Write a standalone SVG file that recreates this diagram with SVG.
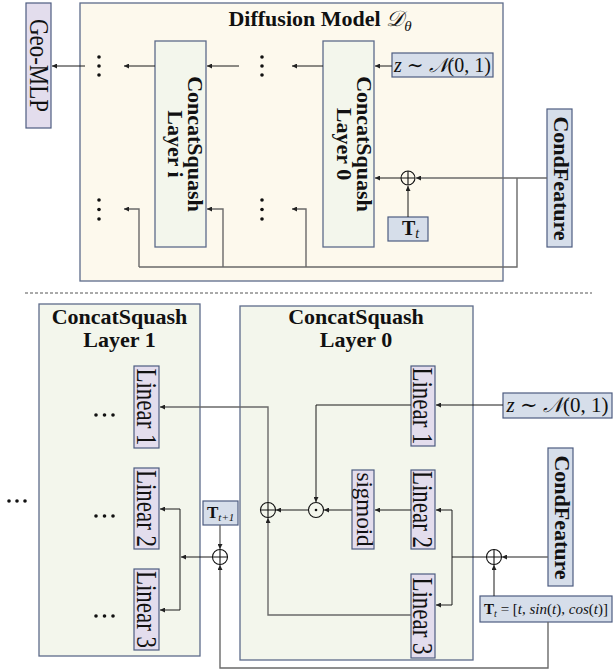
<svg xmlns="http://www.w3.org/2000/svg" width="613" height="671" viewBox="0 0 613 671">
<defs>
<marker id="ah" viewBox="0 0 6 6" refX="6" refY="3" markerWidth="5" markerHeight="5" markerUnits="userSpaceOnUse" orient="auto">
<path d="M0,0 L6,3 L0,6 z" fill="#222"/>
</marker>
<style>
.outer{fill:#fdf9ed;stroke:#5d6b8a;stroke-width:1.3}
.layer{fill:#f3f6ec;stroke:#5d6b8a;stroke-width:1.3}
.lav{fill:#e3dded;stroke:#4d5c80;stroke-width:1.2}
.blu{fill:#d6deea;stroke:#4d5c80;stroke-width:1.2}
.t{font-family:"Liberation Serif","DejaVu Serif",serif;fill:#111}
.b{font-weight:bold}
.ln{fill:none;stroke:#1a1a1a;stroke-width:1}
.lg{fill:none;stroke:#6a6a6a;stroke-width:1.4}
.a{marker-end:url(#ah)}
.op{fill:none;stroke:#111;stroke-width:1.1}
.dot{fill:#111}
</style>
</defs>

<g id="diffusion-model">
<rect class="outer" x="80" y="3" width="423" height="278"/>
<text class="t b" x="320" y="26" font-size="22" text-anchor="middle">Diffusion Model <tspan font-weight="normal" font-style="italic">𝒟</tspan><tspan font-weight="normal" font-style="italic" font-size="15" dy="5">θ</tspan></text>
</g>

<g id="geo-mlp">
<rect class="lav" x="26" y="3" width="25" height="125"/>
<text class="t" font-size="23" text-anchor="middle" transform="translate(30,65.5) rotate(90) scale(1,1.2)">Geo-MLP</text>
</g>

<g id="layer-i">
<rect class="layer" x="155" y="41" width="51" height="206"/>
<text class="t b" font-size="22" text-anchor="middle" transform="translate(188,144) rotate(90)">ConcatSquash</text>
<text class="t b" font-size="22" text-anchor="middle" transform="translate(168,144) rotate(90)">Layer i</text>
</g>

<g id="layer-0-top">
<rect class="layer" x="323" y="41" width="51" height="206"/>
<text class="t b" font-size="22" text-anchor="middle" transform="translate(357,144) rotate(90)">ConcatSquash</text>
<text class="t b" font-size="22" text-anchor="middle" transform="translate(337,144) rotate(90)">Layer 0</text>
</g>

<g id="z-top">
<rect class="blu" x="392" y="53" width="101" height="24"/>
<text class="t" x="442.5" y="71.5" font-size="20" text-anchor="middle"><tspan font-style="italic">z</tspan> ∼ <tspan font-style="italic">𝒩</tspan>(0, 1)</text>
</g>

<g id="condfeature-top">
<rect class="blu" x="547" y="109" width="25" height="138"/>
<text class="t b" font-size="22" text-anchor="middle" transform="translate(554,178.5) rotate(90)">CondFeature</text>
</g>

<g id="tt-top">
<rect class="blu" x="388" y="217" width="40" height="24"/>
<text class="t" x="402" y="235" font-size="20" font-weight="bold">T<tspan font-weight="normal" font-style="italic" font-size="14" dy="3">t</tspan></text>
</g>

<g id="plus-top">
<circle class="op" cx="408" cy="178" r="7"/>
<path class="op" d="M401,178 H415 M408,171 V185"/>
</g>

<g id="dots-top">
<circle class="dot" cx="99" cy="57" r="1.8"/><circle class="dot" cx="99" cy="66" r="1.8"/><circle class="dot" cx="99" cy="75" r="1.8"/>
<circle class="dot" cx="262" cy="57" r="1.8"/><circle class="dot" cx="262" cy="66" r="1.8"/><circle class="dot" cx="262" cy="75" r="1.8"/>
<circle class="dot" cx="99" cy="200" r="1.8"/><circle class="dot" cx="99" cy="209.5" r="1.8"/><circle class="dot" cx="99" cy="219" r="1.8"/>
<circle class="dot" cx="262" cy="200" r="1.8"/><circle class="dot" cx="262" cy="209.5" r="1.8"/><circle class="dot" cx="262" cy="219" r="1.8"/>
</g>

<g id="separator">
<line x1="25" y1="293" x2="592" y2="293" stroke="#555" stroke-width="1" stroke-dasharray="3,2"/>
</g>

<g id="layer-1">
<rect class="layer" x="39" y="304" width="161" height="352"/>
<text class="t b" x="119.5" y="324" font-size="22" text-anchor="middle">ConcatSquash</text>
<text class="t b" x="119.5" y="347" font-size="22" text-anchor="middle">Layer 1</text>
</g>

<g id="layer-0">
<rect class="layer" x="240" y="306" width="233" height="354"/>
<text class="t b" x="356" y="324" font-size="22" text-anchor="middle">ConcatSquash</text>
<text class="t b" x="356" y="347" font-size="22" text-anchor="middle">Layer 0</text>
</g>

<g id="l1-linear1">
<rect class="lav" x="134" y="366" width="25" height="82"/>
<text class="t" font-size="23" text-anchor="middle" transform="translate(136.5,407) rotate(90) scale(1,1.3)">Linear 1</text>
</g>
<g id="l1-linear2">
<rect class="lav" x="134" y="468" width="25" height="81"/>
<text class="t" font-size="23" text-anchor="middle" transform="translate(136.5,508.5) rotate(90) scale(1,1.3)">Linear 2</text>
</g>
<g id="l1-linear3">
<rect class="lav" x="134" y="569" width="25" height="81"/>
<text class="t" font-size="23" text-anchor="middle" transform="translate(136.5,609.5) rotate(90) scale(1,1.3)">Linear 3</text>
</g>

<g id="l0-linear1">
<rect class="lav" x="411" y="366" width="24" height="80"/>
<text class="t" font-size="23" text-anchor="middle" transform="translate(413,406) rotate(90) scale(1,1.3)">Linear 1</text>
</g>
<g id="l0-linear2">
<rect class="lav" x="411" y="470" width="24" height="79"/>
<text class="t" font-size="23" text-anchor="middle" transform="translate(413,509.5) rotate(90) scale(1,1.3)">Linear 2</text>
</g>
<g id="l0-linear3">
<rect class="lav" x="411" y="574" width="24" height="84"/>
<text class="t" font-size="23" text-anchor="middle" transform="translate(413,616) rotate(90) scale(1,1.3)">Linear 3</text>
</g>
<g id="sigmoid">
<rect class="lav" x="352" y="470" width="22" height="79"/>
<text class="t" font-size="23" text-anchor="middle" transform="translate(357,509.5) rotate(90)">sigmoid</text>
</g>

<g id="z-bottom">
<rect class="blu" x="503" y="393" width="109" height="25"/>
<text class="t" x="557.5" y="412" font-size="21" text-anchor="middle"><tspan font-style="italic">z</tspan> ∼ <tspan font-style="italic">𝒩</tspan>(0, 1)</text>
</g>

<g id="condfeature-bottom">
<rect class="blu" x="548" y="448" width="25" height="138"/>
<text class="t b" font-size="22" text-anchor="middle" transform="translate(554.5,517.5) rotate(90)">CondFeature</text>
</g>

<g id="tt-bottom">
<rect class="blu" x="480" y="596" width="132" height="26"/>
<text class="t" x="546" y="614" font-size="15" text-anchor="middle"><tspan font-weight="bold">T</tspan><tspan font-style="italic" font-size="10" dy="3">t</tspan><tspan dy="-3"> = [</tspan><tspan font-style="italic">t</tspan>, <tspan font-style="italic">sin</tspan>(<tspan font-style="italic">t</tspan>), <tspan font-style="italic">cos</tspan>(<tspan font-style="italic">t</tspan>)]</text>
</g>

<g id="tt1">
<rect class="blu" x="203" y="501" width="35" height="24"/>
<text class="t" x="207" y="518" font-size="17" font-weight="bold">T<tspan font-weight="normal" font-style="italic" font-size="11" dy="3">t+1</tspan></text>
</g>

<g id="plus-l1">
<circle class="op" cx="220" cy="557" r="7.5"/>
<path class="op" d="M212.5,557 H227.5 M220,549.5 V564.5"/>
</g>
<g id="plus-l0">
<circle class="op" cx="268" cy="510" r="7.5"/>
<path class="op" d="M260.5,510 H275.5 M268,502.5 V517.5"/>
</g>
<g id="odot">
<circle class="op" cx="316" cy="510" r="7.5"/>
<circle class="dot" cx="316" cy="510" r="1.3"/>
</g>
<g id="plus-cond">
<circle class="op" cx="494" cy="557" r="7.5"/>
<path class="op" d="M486.5,557 H501.5 M494,549.5 V564.5"/>
</g>

<g id="dots-bottom">
<circle class="dot" cx="96" cy="415" r="1.8"/><circle class="dot" cx="104.5" cy="415" r="1.8"/><circle class="dot" cx="113" cy="415" r="1.8"/>
<circle class="dot" cx="96" cy="516" r="1.8"/><circle class="dot" cx="104.5" cy="516" r="1.8"/><circle class="dot" cx="113" cy="516" r="1.8"/>
<circle class="dot" cx="96" cy="616" r="1.8"/><circle class="dot" cx="104.5" cy="616" r="1.8"/><circle class="dot" cx="113" cy="616" r="1.8"/>
<circle class="dot" cx="9" cy="501" r="1.8"/><circle class="dot" cx="17" cy="501" r="1.8"/><circle class="dot" cx="25" cy="501" r="1.8"/>
</g>

<g id="connectors">
<path class="ln a" d="M85,66 H52"/>
<path class="ln a" d="M155,66 H124"/>
<path class="ln a" d="M239,66 H207"/>
<path class="ln a" d="M323,66 H292"/>
<path class="ln a" d="M392,66 H375"/>
<path class="lg a" d="M547,178 H416"/>
<path class="ln a" d="M401,178 H375"/>
<path class="ln a" d="M408,217 V186"/>
<path class="lg" d="M517,178 V267 H139"/>
<path class="lg a" d="M139,267 V209 H124"/>
<path class="lg a" d="M223,267 V209 H207"/>
<path class="lg a" d="M306,267 V209 H292"/>

<path class="ln a" d="M503,405 H436"/>
<path class="ln a" d="M411,405 H316 V502"/>
<path class="ln a" d="M411,510 H375"/>
<path class="ln a" d="M352,510 H324"/>
<path class="ln a" d="M308,510 H276"/>
<path class="lg a" d="M268,502 V407 H160"/>
<path class="lg a" d="M411,615 H268 V518"/>
<path class="lg a" d="M548,557 H502"/>
<path class="ln a" d="M494,596 V565"/>
<path class="ln" d="M486,557 H452 M452,510 V605"/>
<path class="ln a" d="M452,510 H436"/>
<path class="ln a" d="M452,605 H436"/>
<path class="lg a" d="M220,525 V549"/>
<path class="ln a" d="M212,557 H181"/>
<path class="ln" d="M180,509 V610"/>
<path class="ln a" d="M180,509 H160"/>
<path class="ln a" d="M180,610 H160"/>
<path class="lg a" d="M548,622 V668 H220 V565"/>
</g>
</svg>
